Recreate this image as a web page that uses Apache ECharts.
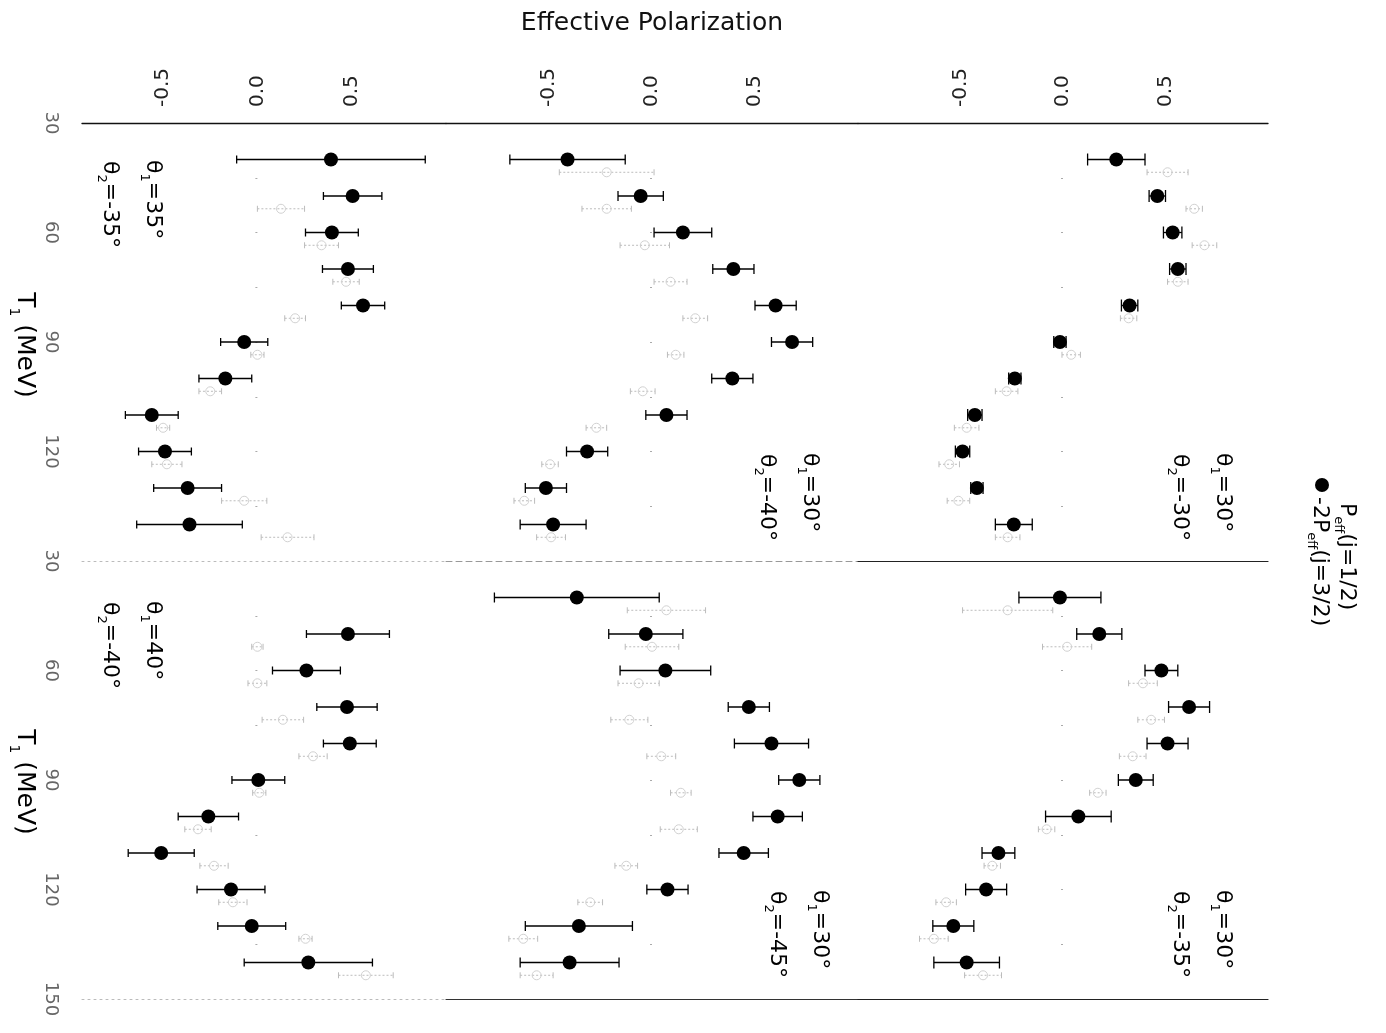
<!DOCTYPE html>
<html><head><meta charset="utf-8">
<script src="https://cdn.jsdelivr.net/npm/echarts@6/dist/echarts.min.js"></script>
<style>html,body{margin:0;padding:0;background:#fff}#c{width:1386px;height:1033px}</style>
</head><body><div id="c"></div>
<script>
// Kinetic energies T1 (MeV)
const T_FULL = [40,50,60,70,80,90,100,110,120,130,140];
const T_LB = [50,60,70,80,90,100,110,120,130,140];
const T_SHIFT = 3.5; // offset used to draw the -2P_eff(j=3/2) points beside P_eff(j=1/2)

// θ1=30°, θ2=-30°
const P_30_30 = [0.26,0.46,0.535,0.56,0.325,-0.015,-0.235,-0.43,-0.49,-0.42,-0.24];
const E_30_30 = [0.14,0.04,0.045,0.04,0.04,0.03,0.03,0.035,0.035,0.03,0.09];
const Q_30_30 = [0.51,0.64,0.69,0.56,0.32,0.04,-0.275,-0.47,-0.555,-0.51,-0.27];
const QE_30_30 = [0.1,0.04,0.06,0.05,0.04,0.045,0.055,0.06,0.05,0.055,0.06];
// θ1=30°, θ2=-35°
const P_30_35 = [-0.015,0.177,0.48,0.615,0.51,0.355,0.075,-0.315,-0.375,-0.535,-0.47];
const E_30_35 = [0.2,0.11,0.08,0.1,0.1,0.085,0.16,0.08,0.1,0.1,0.16];
const Q_30_35 = [-0.27,0.02,0.39,0.43,0.34,0.17,-0.08,-0.345,-0.57,-0.63,-0.39];
const QE_30_35 = [0.22,0.12,0.07,0.065,0.065,0.04,0.04,0.04,0.05,0.07,0.09];
// θ1=30°, θ2=-40°
const P_30_40 = [-0.41,-0.055,0.15,0.395,0.6,0.68,0.39,0.07,-0.315,-0.515,-0.48];
const E_30_40 = [0.28,0.11,0.14,0.1,0.1,0.1,0.1,0.1,0.1,0.1,0.16];
const Q_30_40 = [-0.22,-0.22,-0.035,0.09,0.21,0.115,-0.045,-0.27,-0.495,-0.62,-0.49];
const QE_30_40 = [0.23,0.12,0.12,0.08,0.06,0.04,0.06,0.05,0.04,0.05,0.07];
// θ1=30°, θ2=-45°
const P_30_45 = [-0.365,-0.03,0.065,0.47,0.58,0.715,0.61,0.445,0.075,-0.355,-0.4];
const E_30_45 = [0.4,0.18,0.22,0.1,0.18,0.1,0.12,0.12,0.1,0.26,0.24];
const Q_30_45 = [0.07,0.0,-0.065,-0.11,0.045,0.14,0.13,-0.125,-0.3,-0.625,-0.56];
const QE_30_45 = [0.19,0.13,0.1,0.09,0.07,0.05,0.09,0.055,0.06,0.07,0.08];
// θ1=35°, θ2=-35°
const P_35_35 = [0.39,0.505,0.395,0.48,0.56,-0.07,-0.17,-0.56,-0.49,-0.37,-0.36];
const E_35_35 = [0.5,0.155,0.14,0.135,0.115,0.125,0.14,0.14,0.14,0.18,0.28];
const Q_35_35 = [null,0.125,0.34,0.47,0.2,0.0,-0.25,-0.5,-0.48,-0.07,0.16];
const QE_35_35 = [null,0.125,0.09,0.07,0.055,0.035,0.06,0.035,0.08,0.12,0.14];
// θ1=40°, θ2=-40°
const P_40_40 = [0.48,0.26,0.475,0.49,0.005,-0.26,-0.51,-0.14,-0.03,0.27];
const E_40_40 = [0.22,0.18,0.16,0.14,0.14,0.16,0.175,0.18,0.18,0.34];
const Q_40_40 = [0.0,0.0,0.135,0.295,0.01,-0.315,-0.23,-0.13,0.255,0.575];
const QE_40_40 = [0.03,0.05,0.11,0.075,0.035,0.07,0.075,0.075,0.035,0.145];

const P_TICKS = [-0.5, 0, 0.5];
const T_TICKS_TOP = [30,60,90,120];
const T_TICKS_BOTTOM = [30,60,90,120,150];
const T_MINOR = [45,60,75,90,105,120,135];

const cols = [
  {left:82, width:364, min:-0.93, max:1.0, cap:4},
  {left:446, width:412, min:-1, max:1, cap:5},
  {left:858, width:410, min:-1, max:1, cap:6}
];
const rows = [{top:123, height:438},{top:561, height:438}];
const faintLine = {color:'#bbb', type:[2,4], width:1};
const panels = [
  {row:0,col:0,T:T_FULL,P:P_35_35,E:E_35_35,Q:Q_35_35,QE:QE_35_35,a1:'35',a2:'-35',ax:153,ay:160, bl:faintLine},
  {row:0,col:1,T:T_FULL,P:P_30_40,E:E_30_40,Q:Q_30_40,QE:QE_30_40,a1:'30',a2:'-40',ax:810,ay:453, bl:{color:'#999',type:[6,4],width:1}},
  {row:0,col:2,T:T_FULL,P:P_30_30,E:E_30_30,Q:Q_30_30,QE:QE_30_30,a1:'30',a2:'-30',ax:1223,ay:453, bl:{color:'#222',width:1.2}},
  {row:1,col:0,T:T_LB,P:P_40_40,E:E_40_40,Q:Q_40_40,QE:QE_40_40,a1:'40',a2:'-40',ax:153,ay:601, bl:faintLine},
  {row:1,col:1,T:T_FULL,P:P_30_45,E:E_30_45,Q:Q_30_45,QE:QE_30_45,a1:'30',a2:'-45',ax:820,ay:890, bl:{color:'#333',width:1.2}},
  {row:1,col:2,T:T_FULL,P:P_30_35,E:E_30_35,Q:Q_30_35,QE:QE_30_35,a1:'30',a2:'-35',ax:1223,ay:890, bl:{color:'#222',width:1.2}}
];

function errRender(color, width, dash, cap) {
  return function (params, api) {
    const t = api.value(1);
    const a = api.coord([api.value(2), t]);
    const b = api.coord([api.value(3), t]);
    const st = {stroke: color, lineWidth: width, lineDash: dash};
    const cs = {stroke: color, lineWidth: width};
    return {type:'group', children:[
      {type:'line', shape:{x1:a[0],y1:a[1],x2:b[0],y2:b[1]}, style: st},
      {type:'line', shape:{x1:a[0],y1:a[1]-cap,x2:a[0],y2:a[1]+cap}, style: cs},
      {type:'line', shape:{x1:b[0],y1:b[1]-cap,x2:b[0],y2:b[1]+cap}, style: cs}
    ]};
  };
}

const grids = [], xAxes = [], yAxes = [], series = [];
const FONT = 'DejaVu Sans';
panels.forEach((p, g) => {
  const c = cols[p.col], r = rows[p.row];
  grids.push({left:c.left, top:r.top, width:c.width, height:r.height, containLabel:false, outerBoundsMode:'none'});
  xAxes.push({type:'value', gridIndex:g, position:'top', min:c.min, max:c.max, show: p.row === 0,
    axisLine:{show:true, lineStyle:{color:'#111', width:1.3}}, axisTick:{show:false}, splitLine:{show:false},
    axisLabel:{customValues:P_TICKS, rotate:-90, margin:16, fontSize:20, fontFamily:FONT, color:'#222',
      formatter: v => Number(v).toFixed(1)}});
  xAxes.push({type:'value', gridIndex:g, position:'bottom', min:c.min, max:c.max,
    axisLine:{show:true, lineStyle:p.bl}, axisTick:{show:false}, axisLabel:{show:false}, splitLine:{show:false}});
  yAxes.push({type:'value', gridIndex:g, position:'left', inverse:true, min:30, max:150, show: p.col === 0,
    axisLine:{show:false}, axisTick:{show:false}, splitLine:{show:false},
    axisLabel:{customValues: p.row === 0 ? T_TICKS_TOP : T_TICKS_BOTTOM, rotate:-90, margin:22,
      fontSize:18, fontFamily:FONT, color:'#666'}});
  yAxes.push({type:'value', gridIndex:g, position:'right', inverse:true, min:30, max:150,
    axisLine:{show:false}, axisLabel:{show:false}, splitLine:{show:false},
    axisTick:{show:true, inside:true, length:2, customValues:T_MINOR, lineStyle:{color:'#aaa', width:1}}});
  const xi = 2*g, yi = 2*g;
  const faint = [], faintPts = [], main = [], mainPts = [];
  p.T.forEach((t, i) => {
    if (p.Q[i] != null) {
      faint.push([p.Q[i], t + T_SHIFT, p.Q[i] - p.QE[i], p.Q[i] + p.QE[i]]);
      faintPts.push([p.Q[i], t + T_SHIFT]);
    }
    main.push([p.P[i], t, p.P[i] - p.E[i], p.P[i] + p.E[i]]);
    mainPts.push([p.P[i], t]);
  });
  series.push({type:'custom', xAxisIndex:xi, yAxisIndex:yi, silent:true, data:faint,
    encode:{x:[0,2,3], y:1}, renderItem: errRender('#bcbcbc', 1, [2,2], 3)});
  series.push({type:'scatter', xAxisIndex:xi, yAxisIndex:yi, silent:true, data:faintPts,
    symbol:'circle', symbolSize:9, itemStyle:{color:'rgba(255,255,255,0)', borderColor:'#d2d2d2', borderWidth:1, opacity:1}});
  series.push({type:'custom', xAxisIndex:xi, yAxisIndex:yi, silent:true, data:main,
    encode:{x:[0,2,3], y:1}, renderItem: errRender('#000', 1.3, null, c.cap)});
  series.push({type:'scatter', xAxisIndex:xi, yAxisIndex:yi, silent:true, data:mainPts,
    symbol:'circle', symbolSize:14, itemStyle:{color:'#000', opacity:1}});
});

const RICH = {
  m:{fontSize:22, fontFamily:FONT, color:'#111', lineHeight:30},
  s:{fontSize:13, fontFamily:FONT, color:'#111', verticalAlign:'bottom'}
};
const RICH_BIG = {
  m:{fontSize:25, fontFamily:FONT, color:'#111', lineHeight:34},
  s:{fontSize:14, fontFamily:FONT, color:'#111', verticalAlign:'bottom'}
};
function rotText(x, y, text, rich, align) {
  return {type:'text', x:x, y:y, rotation:-Math.PI/2, silent:true,
    style:{text:text, rich:rich, x:0, y:0, align:align || 'left', verticalAlign:'middle'}};
}
const graphics = [
  {type:'text', x:652, y:23, silent:true, style:{text:'Effective Polarization', fontSize:25, fontFamily:FONT, fill:'#111', align:'center', verticalAlign:'middle'}},
  rotText(24, 345, '{m|T}{s|1}{m| (MeV)}', RICH_BIG, 'center'),
  rotText(24, 782, '{m|T}{s|1}{m| (MeV)}', RICH_BIG, 'center'),
  {type:'circle', shape:{cx:1322, cy:485, r:7}, style:{fill:'#000'}, silent:true},
  rotText(1347, 503, '{m|P}{s|eff}{m|(j=1/2)}', RICH),
  rotText(1320, 497, '{m|-2P}{s|eff}{m|(j=3/2)}', RICH)
];
panels.forEach(p => {
  graphics.push(rotText(p.ax, p.ay, '{m|θ}{s|1}{m|=' + p.a1 + '°}', RICH));
  graphics.push(rotText(p.ax - 43, p.ay + 1, '{m|θ}{s|2}{m|=' + p.a2 + '°}', RICH));
});

const chart = echarts.init(document.getElementById('c'), null, {renderer:'canvas'});
chart.setOption({
  animation:false,
  backgroundColor:'#fff',
  grid:grids, xAxis:xAxes, yAxis:yAxes, series:series,
  graphic:graphics
});
</script></body></html>
